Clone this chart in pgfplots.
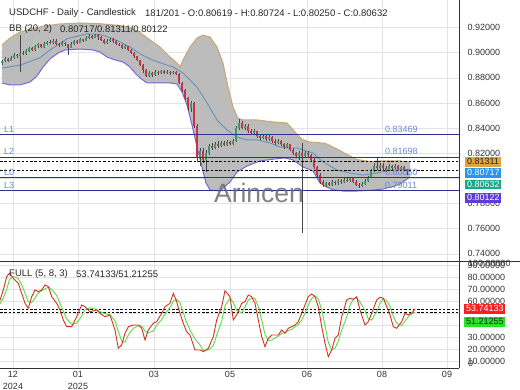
\documentclass[border=0pt]{standalone}
\usepackage{pgfplots}
\pgfplotsset{compat=1.18}
\usepackage{pgfplotstable}
\usepackage{fontspec}
\setmainfont{Liberation Sans}

\definecolor{cgreen}{RGB}{60,155,105}
\definecolor{cred}{RGB}{200,50,70}
\definecolor{cwick}{RGB}{70,70,70}
\definecolor{bbup}{RGB}{200,168,110}
\definecolor{bblo}{RGB}{120,105,215}
\definecolor{bbmid}{RGB}{100,145,190}
\definecolor{bbfill}{RGB}{188,188,188}
\definecolor{lvl}{RGB}{45,50,140}
\definecolor{lvltxt}{RGB}{110,135,210}
\definecolor{gridc}{RGB}{226,226,232}
\definecolor{boxor}{RGB}{222,165,60}
\definecolor{boxbl}{RGB}{40,150,240}
\definecolor{boxte}{RGB}{30,165,140}
\definecolor{boxpu}{RGB}{95,60,215}
\definecolor{boxre}{RGB}{250,30,30}
\definecolor{boxgr}{RGB}{40,225,40}
\definecolor{stk}{RGB}{210,50,30}
\definecolor{std}{RGB}{90,220,70}

% Bollinger upper band
\pgfplotstableread{
x y
2 0.9061
10 0.9116
20 0.9164
30 0.9188
45 0.9212
60 0.9228
80 0.9236
100 0.9230
120 0.9216
130 0.9200
140 0.9160
150 0.9101
160 0.9045
170 0.8965
177 0.8918
180 0.8886
183 0.8942
190 0.9045
197 0.9116
203 0.9140
210 0.9124
217 0.9045
223 0.8918
228 0.8727
233 0.8568
238 0.8480
243 0.8465
257 0.8465
273 0.8449
287 0.8441
295 0.8370
302 0.8310
310 0.8290
325 0.8280
338 0.8230
348 0.8186
357 0.8150
370 0.8135
385 0.8140
400 0.8140
410 0.81311
}\bbU

% Bollinger lower band
\pgfplotstableread{
x y
2 0.8759
10 0.8743
20 0.8743
30 0.8767
37 0.8814
43 0.8886
50 0.8950
58 0.8997
65 0.9021
80 0.9029
93 0.9021
100 0.9005
107 0.8965
115 0.8942
123 0.8926
130 0.8886
135 0.8838
140 0.8799
147 0.8759
170 0.8759
177 0.8751
182 0.8687
187 0.8584
192 0.8425
197 0.8250
202 0.8091
206 0.7964
210 0.7908
220 0.7900
230 0.7972
237 0.8051
247 0.8099
260 0.8139
275 0.8155
285 0.8163
293 0.8147
303 0.8091
313 0.8059
320 0.7964
327 0.7930
333 0.7910
343 0.7900
357 0.7900
370 0.7905
383 0.7916
393 0.7935
400 0.7956
410 0.80122
}\bbL

% Bollinger middle band
\pgfplotstableread{
x y
2 0.8878
20 0.8900
40 0.8960
50 0.9021
67 0.9110
87 0.9150
100 0.9145
110 0.9120
120 0.9085
130 0.9045
140 0.8990
150 0.8950
160 0.8920
173 0.8886
183 0.8838
190 0.8783
197 0.8727
207 0.8600
217 0.8465
227 0.8385
237 0.8329
247 0.8306
257 0.8306
270 0.8282
280 0.8250
290 0.8242
297 0.8242
313 0.8202
323 0.8131
337 0.8067
350 0.8043
363 0.8027
377 0.8043
390 0.8067
410 0.80717
}\bbM

% band outline for the grey fill: upper band left to right, lower band right to left
\pgfplotstableread{
x y
2 0.9061
10 0.9116
20 0.9164
30 0.9188
45 0.9212
60 0.9228
80 0.9236
100 0.9230
120 0.9216
130 0.9200
140 0.9160
150 0.9101
160 0.9045
170 0.8965
177 0.8918
180 0.8886
183 0.8942
190 0.9045
197 0.9116
203 0.9140
210 0.9124
217 0.9045
223 0.8918
228 0.8727
233 0.8568
238 0.8480
243 0.8465
257 0.8465
273 0.8449
287 0.8441
295 0.8370
302 0.8310
310 0.8290
325 0.8280
338 0.8230
348 0.8186
357 0.8150
370 0.8135
385 0.8140
400 0.8140
410 0.81311
410 0.80122
400 0.7956
393 0.7935
383 0.7916
370 0.7905
357 0.7900
343 0.7900
333 0.7910
327 0.7930
320 0.7964
313 0.8059
303 0.8091
293 0.8147
285 0.8163
275 0.8155
260 0.8139
247 0.8099
237 0.8051
230 0.7972
220 0.7900
210 0.7908
206 0.7964
202 0.8091
197 0.8250
192 0.8425
187 0.8584
182 0.8687
177 0.8751
170 0.8759
147 0.8759
140 0.8799
135 0.8838
130 0.8886
123 0.8926
115 0.8942
107 0.8965
100 0.9005
93 0.9021
80 0.9029
65 0.9021
58 0.8997
50 0.8950
43 0.8886
37 0.8814
30 0.8767
20 0.8743
10 0.8743
2 0.8759
}\bbPoly

% up candles: x open high low close
\pgfplotstableread{
x o h l c
2 0.8915 0.8945 0.8905 0.8930
5 0.8930 0.8962 0.8922 0.8950
11 0.8935 0.8972 0.8930 0.8960
14 0.8960 0.8995 0.8952 0.8985
20 0.8970 0.9140 0.8846 0.9000
26 0.8990 0.9028 0.8985 0.9015
29 0.9015 0.9048 0.9008 0.9035
35 0.9020 0.9062 0.9015 0.9050
38 0.9050 0.9078 0.9040 0.9065
44 0.9045 0.9082 0.9040 0.9070
47 0.9070 0.9095 0.9062 0.9085
53 0.9075 0.9105 0.9068 0.9095
62 0.9060 0.9090 0.9050 0.9080
71 0.9040 0.9082 0.9035 0.9070
74 0.9070 0.9102 0.9062 0.9090
80 0.9080 0.9115 0.9075 0.9105
86 0.9095 0.9132 0.9090 0.9120
89 0.9120 0.9148 0.9112 0.9135
95 0.9120 0.9152 0.9115 0.9140
107 0.9080 0.9108 0.9070 0.9095
110 0.9095 0.9120 0.9085 0.9110
125 0.9040 0.9062 0.9030 0.9050
149 0.8815 0.8852 0.8805 0.8840
155 0.8825 0.8860 0.8818 0.8850
161 0.8835 0.8865 0.8828 0.8855
167 0.8840 0.8862 0.8832 0.8850
173 0.8835 0.8858 0.8828 0.8845
191 0.8560 0.8615 0.8530 0.8600
200 0.8170 0.8245 0.8100 0.8220
206 0.8150 0.8230 0.8055 0.8200
209 0.8200 0.8275 0.8185 0.8260
215 0.8245 0.8290 0.8235 0.8275
221 0.8260 0.8300 0.8250 0.8285
227 0.8265 0.8305 0.8255 0.8290
233 0.8275 0.8315 0.8265 0.8300
236 0.8300 0.8420 0.8290 0.8400
239 0.8400 0.8470 0.8385 0.8440
245 0.8400 0.8435 0.8385 0.8420
254 0.8360 0.8390 0.8350 0.8375
263 0.8320 0.8355 0.8310 0.8340
269 0.8310 0.8342 0.8300 0.8330
278 0.8280 0.8315 0.8270 0.8300
287 0.8250 0.8282 0.8240 0.8270
299 0.8175 0.8215 0.8150 0.8200
305 0.8180 0.8215 0.8165 0.8200
326 0.7945 0.7975 0.7932 0.7960
332 0.7950 0.7985 0.7942 0.7970
338 0.7960 0.7992 0.7950 0.7980
344 0.7970 0.8005 0.7962 0.7990
350 0.7985 0.8015 0.7975 0.8000
362 0.7940 0.7970 0.7930 0.7955
365 0.7955 0.7992 0.7948 0.7980
368 0.7980 0.8022 0.7972 0.8010
371 0.8010 0.8075 0.8000 0.8060
374 0.8060 0.8120 0.8050 0.8100
380 0.8080 0.8125 0.8070 0.8110
389 0.8070 0.8112 0.8062 0.8100
395 0.8085 0.8115 0.8075 0.8100
401 0.8075 0.8102 0.8068 0.8090
407 0.80619 0.80724 0.80250 0.80632
}\upc

% down candles: x open high low close
\pgfplotstableread{
x o h l c
8 0.8950 0.8958 0.8925 0.8935
17 0.8985 0.8992 0.8960 0.8970
23 0.9000 0.9010 0.8978 0.8990
32 0.9035 0.9042 0.9010 0.9020
41 0.9065 0.9070 0.9035 0.9045
50 0.9085 0.9098 0.9066 0.9075
56 0.9095 0.9105 0.9060 0.9070
59 0.9070 0.9080 0.9045 0.9060
65 0.9080 0.9088 0.9055 0.9065
68 0.9065 0.9072 0.8985 0.9040
77 0.9090 0.9100 0.9070 0.9080
83 0.9105 0.9112 0.9085 0.9095
92 0.9135 0.9142 0.9110 0.9120
98 0.9140 0.9148 0.9100 0.9125
101 0.9125 0.9130 0.9090 0.9100
104 0.9100 0.9105 0.9065 0.9080
113 0.9110 0.9115 0.9080 0.9090
116 0.9090 0.9098 0.9060 0.9070
119 0.9070 0.9080 0.9050 0.9060
122 0.9060 0.9068 0.9030 0.9040
128 0.9050 0.9055 0.9010 0.9020
131 0.9020 0.9028 0.8990 0.9000
134 0.9000 0.9005 0.8960 0.8970
137 0.8970 0.8975 0.8930 0.8940
140 0.8940 0.8945 0.8890 0.8900
143 0.8900 0.8910 0.8840 0.8860
146 0.8860 0.8870 0.8805 0.8815
152 0.8840 0.8850 0.8810 0.8825
158 0.8850 0.8858 0.8825 0.8835
164 0.8855 0.8860 0.8830 0.8840
170 0.8850 0.8855 0.8825 0.8835
176 0.8845 0.8852 0.8820 0.8830
179 0.8830 0.8835 0.8750 0.8760
182 0.8760 0.8770 0.8690 0.8700
185 0.8700 0.8710 0.8620 0.8640
188 0.8640 0.8650 0.8540 0.8560
194 0.8600 0.8610 0.8400 0.8420
197 0.8420 0.8430 0.8130 0.8170
203 0.8220 0.8240 0.8120 0.8150
212 0.8260 0.8280 0.8230 0.8245
218 0.8275 0.8295 0.8245 0.8260
224 0.8285 0.8295 0.8255 0.8265
230 0.8290 0.8300 0.8262 0.8275
242 0.8440 0.8455 0.8390 0.8400
248 0.8420 0.8430 0.8365 0.8380
251 0.8380 0.8395 0.8345 0.8360
257 0.8375 0.8380 0.8325 0.8340
260 0.8340 0.8350 0.8305 0.8320
266 0.8340 0.8348 0.8295 0.8310
272 0.8330 0.8338 0.8285 0.8300
275 0.8300 0.8310 0.8265 0.8280
281 0.8300 0.8308 0.8255 0.8270
284 0.8270 0.8285 0.8235 0.8250
290 0.8270 0.8275 0.8215 0.8230
293 0.8230 0.8240 0.8185 0.8200
296 0.8200 0.8210 0.8160 0.8175
302 0.8200 0.8280 0.7565 0.8180
308 0.8200 0.8220 0.8170 0.8185
311 0.8185 0.8195 0.8135 0.8150
314 0.8150 0.8160 0.8075 0.8090
317 0.8090 0.8100 0.8015 0.8030
320 0.8030 0.8040 0.7955 0.7970
323 0.7970 0.7985 0.7930 0.7945
329 0.7960 0.7972 0.7938 0.7950
335 0.7970 0.7980 0.7948 0.7960
341 0.7980 0.7995 0.7958 0.7970
347 0.7990 0.8010 0.7975 0.7985
353 0.8000 0.8010 0.7965 0.7975
356 0.7975 0.7985 0.7940 0.7950
359 0.7950 0.7962 0.7925 0.7940
377 0.8100 0.8168 0.8065 0.8080
383 0.8110 0.8120 0.8070 0.8085
386 0.8085 0.8100 0.8055 0.8070
392 0.8100 0.8110 0.8070 0.8085
398 0.8100 0.8108 0.8065 0.8075
404 0.8090 0.8098 0.8060 0.8070
}\dnc

\begin{document}
\begin{tikzpicture}[font=\fontsize{9}{10}\selectfont]
\path[use as bounding box] (0,0) rectangle (520pt,390pt);

% ---------------- main price panel ----------------
\begin{axis}[
  at={(0pt,129pt)}, anchor=south west, scale only axis,
  width=459pt, height=261pt,
  xmin=0, xmax=459, ymin=0.73436, ymax=0.94186,
  axis line style={draw=none},
  xtick={13,78,154,230,307,382,447}, xticklabels={},
  ytick={0.74,0.76,0.78,0.80,0.82,0.84,0.86,0.88,0.90,0.92},
  yticklabels={0.74000,0.76000,0.78000,{},0.82000,0.84000,0.86000,0.88000,0.90000,0.92000},
  grid=major, major grid style={gridc, line width=0.6pt},
  major tick length=0pt,
  yticklabel pos=right,
  yticklabel style={anchor=west, xshift=5pt, text=black!80},
]
% Bollinger bands
\addplot[fill=bbfill, draw=none] table[x=x, y=y] {\bbPoly} -- cycle;
\addplot[bbup, line width=1pt] table[x=x, y=y] {\bbU};
\addplot[bblo, line width=1pt] table[x=x, y=y] {\bbL};
\addplot[bbmid, line width=0.9pt] table[x=x, y=y] {\bbM};

% candle wicks
\addplot[cwick, line width=0.6pt, quiver={u=0, v=\thisrow{h}-\thisrow{l}}]
  table[x=x, y=l] {\upc};
\addplot[cwick, line width=0.6pt, quiver={u=0, v=\thisrow{h}-\thisrow{l}}]
  table[x=x, y=l] {\dnc};
% candle bodies
\addplot[cgreen, line width=1.8pt, quiver={u=0, v=\thisrow{c}-\thisrow{o}}]
  table[x=x, y=o] {\upc};
\addplot[cred, line width=1.8pt, quiver={u=0, v=\thisrow{o}-\thisrow{c}}]
  table[x=x, y=c] {\dnc};

% level lines
\addplot[lvl, line width=1.1pt] coordinates {(0,0.83469)(459,0.83469)};
\addplot[lvl, line width=1.1pt] coordinates {(0,0.81698)(459,0.81698)};
\addplot[lvl, line width=1.1pt] coordinates {(0,0.80050)(459,0.80050)};
\addplot[lvl, line width=1.1pt] coordinates {(0,0.79011)(459,0.79011)};
% current value lines
\addplot[black, line width=0.9pt, dash pattern=on 2.5pt off 1.8pt] coordinates {(0,0.81311)(459,0.81311)};
\addplot[black, line width=0.9pt, dash pattern=on 2.5pt off 1.8pt] coordinates {(0,0.80632)(459,0.80632)};

% level labels
\node[lvltxt, anchor=south west, inner sep=2pt] at (axis cs:2,0.83469) {L1};
\node[lvltxt, anchor=south west, inner sep=2pt] at (axis cs:2,0.81698) {L2};
\node[lvltxt, anchor=south west, inner sep=2pt] at (axis cs:2,0.80050) {L0};
\node[lvltxt, anchor=south west, inner sep=2pt] at (axis cs:2,0.79011) {L3};
\node[lvltxt, anchor=south west, inner sep=2pt] at (axis cs:383,0.83469) {0.83469};
\node[lvltxt, anchor=south west, inner sep=2pt] at (axis cs:383,0.81698) {0.81698};
\node[lvltxt, anchor=south west, inner sep=2pt] at (axis cs:383,0.80050) {0.80050};
\node[lvltxt, anchor=south west, inner sep=2pt] at (axis cs:383,0.79011) {0.79011};
\end{axis}

% ---------------- stochastic panel ----------------
\begin{axis}[
  at={(0pt,22pt)}, anchor=south west, scale only axis,
  width=459pt, height=107pt,
  xmin=0, xmax=459, ymin=4.58, ymax=93.75,
  axis line style={draw=none},
  xtick={13,78,154,230,307,382,447},
  xticklabels={{12\\2024},{01\\2025},03,05,06,08,09},
  xticklabel style={align=center, font=\fontsize{9}{11.5}\selectfont, text=black!80},
  ytick={10,20,30,40,50,60,70,80,90},
  yticklabels={10.00000,20.00000,30.00000,{},{},60.00000,70.00000,80.00000,90.00000},
  grid=major, major grid style={gridc, line width=0.6pt},
  major tick length=0pt,
  yticklabel pos=right,
  yticklabel style={anchor=west, xshift=5pt, text=black!80},
]
\addplot[black, line width=0.9pt, dash pattern=on 2.5pt off 1.8pt] coordinates {(0,53.74133)(459,53.74133)};
\addplot[black, line width=0.9pt, dash pattern=on 2.5pt off 1.8pt] coordinates {(0,51.21255)(459,51.21255)};
\addplot[std, line width=0.9pt] coordinates {
(0,58)(3.3,63)(6.7,70)(9.3,78)(13.3,81)(18.3,79)(21.7,74)(25,67)(28.3,60)(31.7,59)(35,63)(38.3,67)(41.7,69)(45,70.5)(48.3,72)(51.7,70)(56.7,65)(60,58.5)(63.3,52)(66.7,45.5)(71.7,41)(76.7,42)(81.7,48)(85,53)(90,54.8)(96.7,53.4)(100,51.5)(105,50)(110,48.8)(115,44)(118.3,35)(121.7,27)(125,26)(128.3,32)(133.3,37.6)(138.3,40)(141.7,39.5)(145,35.3)(148.3,34)(153.3,35.3)(156.7,40.4)(161.7,45)(165,49.7)(170,54.8)(173.3,60.3)(176.7,61.7)(180,58.9)(183.3,50.6)(186.7,42.3)(190,36.2)(195,28.8)(200,23.8)(203.3,19.1)(208.3,19.6)(213.3,23.3)(216.7,32.1)(221.7,43.7)(225,56.4)(230,62.9)(233.3,59.2)(236.7,52.5)(241.7,50.6)(245,55.7)(248.3,61.2)(251.7,63)(255,62.6)(258.3,55.7)(261.7,44.6)(265,32.5)(268.3,27.4)(271.7,27.9)(278.3,31.2)(281.7,33.5)(285,34)(288.3,35.8)(291.7,36.7)(295,39)(298.3,40.9)(301.7,44.6)(305,50.2)(308.3,57.1)(311.7,62.5)(315,64.8)(318.3,62)(321.7,53)(325,40)(328.3,26)(331.7,19.6)(335,21)(338.3,27)(341.7,36.2)(346.7,46.9)(350,57.1)(353.3,61.9)(356.7,62.8)(360,59.6)(365,52.4)(368.3,45.5)(371.7,44.6)(376.7,51.6)(380,58.3)(383.3,62.5)(386.7,60.6)(390,55.7)(393.3,47.8)(396.7,41.8)(401.7,40)(405,43.7)(408.3,47.4)(411.7,49.7)(415,51.21)};
\addplot[stk, line width=0.9pt] coordinates {
(0,61)(3.3,69.6)(6.7,80.7)(9.3,83.5)(13.3,79.3)(18.3,75.2)(21.7,66.8)(25,58.5)(28.3,54.3)(31.7,64)(35,69.6)(38.3,68.2)(41.7,69.6)(45,73.8)(48.3,72.4)(51.7,64)(56.7,58.5)(60,52.9)(63.3,44.6)(66.7,39)(71.7,39)(76.7,47.3)(81.7,57.1)(85,55.7)(90,51.5)(96.7,52.9)(100,50.2)(105,47.3)(110,48.8)(115,36.3)(118.3,21)(121.7,23.8)(125,33.5)(128.3,39)(133.3,40.4)(138.3,40.4)(141.7,37.7)(145,27.9)(148.3,36.3)(153.3,41.8)(156.7,43.2)(161.7,50.2)(165,55.7)(170,58.5)(173.3,66.8)(176.7,59.8)(180,50.2)(183.3,41.8)(186.7,34.8)(190,32.1)(195,19.6)(200,19.6)(203.3,18.2)(208.3,21)(213.3,30.7)(216.7,44.6)(221.7,55.7)(225,69)(230,64)(233.3,44.6)(236.7,48.8)(241.7,58.5)(245,59.8)(248.3,65.4)(251.7,64)(255,58.5)(258.3,44.6)(261.7,30.7)(265,22.3)(268.3,29.3)(271.7,32.1)(278.3,32.1)(281.7,36.3)(285,33.5)(288.3,37.7)(291.7,39)(295,40.4)(298.3,43.2)(301.7,50.2)(305,57.1)(308.3,64)(311.7,66.3)(315,64)(318.3,55.7)(321.7,39)(325,25.2)(328.3,14)(331.7,19.6)(335,29.3)(338.3,32.1)(341.7,47.3)(346.7,61.3)(350,62.7)(353.3,61.8)(356.7,64)(360,52.9)(365,40.4)(368.3,43.2)(371.7,50.2)(376.7,61.3)(380,63.5)(383.3,62.7)(386.7,55.7)(390,48.8)(393.3,39)(396.7,37.7)(401.7,43.2)(405,50.2)(408.3,48.8)(411.7,50.2)(415,53.74)};
\end{axis}

% frame lines
\draw[black!80, line width=0.8pt] (0pt,129pt) -- (520pt,129pt);
\draw[black!80, line width=0.8pt] (0pt,22pt) -- (459pt,22pt);
\draw[black!80, line width=0.8pt] (459pt,22pt) -- (459pt,390pt);

% watermark
\node[text=black!58, opacity=0.85, font=\fontsize{26.5}{30}\selectfont] at (259pt,197pt) {Arincen};

% header texts
\node[anchor=west, inner sep=0pt, text=black!85, font=\fontsize{9.5}{11}\selectfont] at (9pt,377pt) {USDCHF - Daily - Candlestick};
\node[anchor=west, inner sep=0pt, text=black!85, font=\fontsize{9.5}{11}\selectfont] at (145pt,377pt) {181/201 - O:0.80619 - H:0.80724 - L:0.80250 - C:0.80632};
\node[anchor=west, inner sep=0pt, text=black!85, font=\fontsize{9.5}{11}\selectfont] at (9pt,361pt) {BB (20, 2)};
\node[anchor=west, inner sep=0pt, text=black!85, font=\fontsize{9.5}{11}\selectfont] at (60pt,361pt) {0.80717/0.81311/0.80122};
\node[anchor=west, inner sep=0pt, text=black!85, font=\fontsize{9.5}{11}\selectfont] at (9pt,116pt) {FULL (5, 8, 3)};
\node[anchor=west, inner sep=0pt, text=black!85, font=\fontsize{9.5}{11}\selectfont] at (76pt,116pt) {53.74133/51.21255};

% right-side clamped labels
\node[anchor=west, inner sep=0pt, text=black!80] at (468pt,127pt) {100.00000};
\node[anchor=west, inner sep=0pt, text=black!80] at (468pt,27pt) {0};

% value boxes
\tikzset{vbox/.style={anchor=west, inner xsep=1.8pt, inner ysep=1.3pt, text height=6.6pt, text depth=0.6pt}}
\node[vbox, fill=boxor, text=black!85] at (465pt,228pt) {0.81311};
\node[vbox, fill=boxbl, text=white] at (465pt,217pt) {0.80717};
\node[vbox, fill=boxte, text=white] at (465pt,205.5pt) {0.80632};
\node[vbox, fill=boxpu, text=white] at (465pt,192pt) {0.80122};
\node[vbox, fill=boxre, text=white] at (464pt,81pt) {53.74133};
\node[vbox, fill=boxgr, text=black!85] at (464pt,68pt) {51.21255};
\end{tikzpicture}
\end{document}
